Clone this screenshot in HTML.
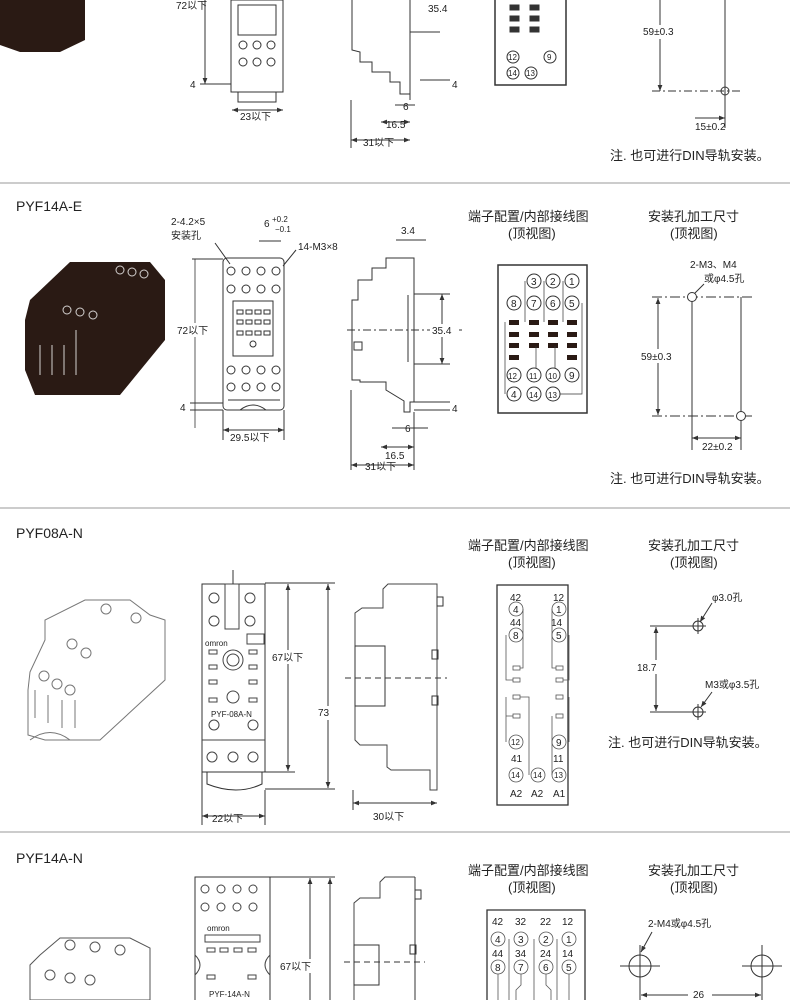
<!DOCTYPE html>
<html><head><meta charset="utf-8"><style>
html,body{margin:0;padding:0;background:#fff}
svg{display:block}
text{font-family:"Liberation Sans","Noto Sans CJK SC",sans-serif;fill:#222;stroke:none}
.t{font-size:13px}.s{font-size:10px}.xs{font-size:8px}.h{font-size:14px}
</style></head><body>
<svg width="790" height="1000" viewBox="0 0 790 1000" xmlns="http://www.w3.org/2000/svg" fill="none" stroke="#333" stroke-width="1">
<defs>
<marker id="a" viewBox="0 0 10 10" refX="10" refY="5" markerWidth="6" markerHeight="6" orient="auto-start-reverse"><path d="M0,1L10,5L0,9z" fill="#333" stroke="none"/></marker>
</defs>
<line x1="0" y1="183" x2="790" y2="183" stroke="#999"/>
<line x1="0" y1="508" x2="790" y2="508" stroke="#999"/>
<line x1="0" y1="832" x2="790" y2="832" stroke="#999"/>

<!-- ===== Section 1 ===== -->
<path d="M0,0H85V40L60,52H20L0,45Z" fill="#2a1a14" stroke="none"/>
<rect x="231" y="0" width="52" height="92" stroke="#333"/>
<rect x="238" y="5" width="38" height="30"/>
<circle cx="243" cy="62" r="4"/><circle cx="257" cy="62" r="4"/><circle cx="271" cy="62" r="4"/>
<circle cx="243" cy="45" r="4"/><circle cx="257" cy="45" r="4"/><circle cx="271" cy="45" r="4"/>
<rect x="238" y="92" width="38" height="10"/>
<line x1="205" y1="0" x2="205" y2="84" marker-end="url(#a)"/>
<text class="s" x="176" y="9">72以下</text>
<line x1="200" y1="84" x2="231" y2="84"/><text class="s" x="190" y="88">4</text>
<line x1="232" y1="110" x2="283" y2="110" marker-start="url(#a)" marker-end="url(#a)"/>
<text class="s" x="240" y="120">23以下</text>
<path d="M352,0V50L360,52V62H372V72H390V82H400V94H410V100"/>
<path d="M410,0V100"/>
<line x1="410" y1="32" x2="440" y2="32"/>
<text class="s" x="428" y="12">35.4</text>
<line x1="420" y1="80" x2="450" y2="80"/><text class="s" x="452" y="88">4</text>
<line x1="395" y1="105" x2="415" y2="105"/><text class="s" x="403" y="110">6</text>
<line x1="381" y1="122" x2="410" y2="122" marker-start="url(#a)" marker-end="url(#a)"/><text class="s" x="386" y="128">16.5</text>
<line x1="351" y1="140" x2="410" y2="140" marker-start="url(#a)" marker-end="url(#a)"/><text class="s" x="363" y="146">31以下</text>
<line x1="351" y1="100" x2="351" y2="148"/>
<rect x="495" y="-2" width="71" height="87" stroke-width="1.5"/>
<rect x="510" y="5" width="9" height="5" fill="#333"/><rect x="530" y="5" width="9" height="5" fill="#333"/>
<rect x="510" y="16" width="9" height="5" fill="#333"/><rect x="530" y="16" width="9" height="5" fill="#333"/>
<rect x="510" y="27" width="9" height="5" fill="#333"/><rect x="530" y="27" width="9" height="5" fill="#333"/>
<circle cx="513" cy="57" r="6"/><text class="xs" x="508" y="60">12</text>
<circle cx="550" cy="57" r="6"/><text class="xs" x="547" y="60">9</text>
<circle cx="513" cy="73" r="6"/><text class="xs" x="508" y="76">14</text>
<circle cx="531" cy="73" r="6"/><text class="xs" x="526" y="76">13</text>
<line x1="660" y1="0" x2="660" y2="91" marker-end="url(#a)"/>
<rect x="642" y="25" width="44" height="14" fill="#fff" stroke="none"/>
<text class="s" x="643" y="35">59±0.3</text>
<line x1="652" y1="91" x2="740" y2="91" stroke-dasharray="8,3,2,3"/>
<line x1="725" y1="0" x2="725" y2="128"/>
<circle cx="725" cy="91" r="4"/>
<line x1="695" y1="118" x2="725" y2="118" marker-end="url(#a)"/>
<text class="s" x="695" y="130">15±0.2</text>
<text class="t" x="610" y="160">注. 也可进行DIN导轨安装。</text>

<!-- ===== Section 2 PYF14A-E ===== -->
<text class="h" x="16" y="211">PYF14A-E</text>
<path d="M30,300L70,262H150L165,280V340L120,395H35L25,370V320Z" fill="#2a1a14" stroke="none"/>
<g stroke="#fff" stroke-width="1" opacity=".8">
<circle cx="120" cy="270" r="4"/><circle cx="132" cy="272" r="4"/><circle cx="144" cy="274" r="4"/>
<circle cx="67" cy="310" r="4"/><circle cx="80" cy="312" r="4"/><circle cx="93" cy="315" r="4"/>
<path d="M40,345v30M52,345v30M64,345v30M76,330v45"/>
</g>
<text class="s" x="171" y="225">2-4.2×5</text>
<text class="s" x="171" y="239">安装孔</text>
<line x1="215" y1="243" x2="230" y2="264"/>
<text class="s" x="264" y="227">6</text><text class="xs" x="272" y="222">+0.2</text><text class="xs" x="275" y="232">−0.1</text>
<line x1="259" y1="241" x2="281" y2="241"/>
<text class="s" x="298" y="250">14-M3×8</text>
<line x1="296" y1="250" x2="283" y2="266"/>
<rect x="223" y="258" width="61" height="152" rx="4"/>
<g>
<circle cx="231" cy="271" r="4"/><circle cx="246" cy="271" r="4"/><circle cx="261" cy="271" r="4"/><circle cx="276" cy="271" r="4"/>
<circle cx="231" cy="289" r="4"/><circle cx="246" cy="289" r="4"/><circle cx="261" cy="289" r="4"/><circle cx="276" cy="289" r="4"/>
<circle cx="231" cy="370" r="4"/><circle cx="246" cy="370" r="4"/><circle cx="261" cy="370" r="4"/><circle cx="276" cy="370" r="4"/>
<circle cx="231" cy="387" r="4"/><circle cx="246" cy="387" r="4"/><circle cx="261" cy="387" r="4"/><circle cx="276" cy="387" r="4"/>
<rect x="233" y="301" width="40" height="55"/>
<rect x="237" y="310" width="6" height="4"/><rect x="246" y="310" width="6" height="4"/><rect x="255" y="310" width="6" height="4"/><rect x="264" y="310" width="6" height="4"/>
<rect x="237" y="320" width="6" height="4"/><rect x="246" y="320" width="6" height="4"/><rect x="255" y="320" width="6" height="4"/><rect x="264" y="320" width="6" height="4"/>
<rect x="237" y="331" width="6" height="4"/><rect x="246" y="331" width="6" height="4"/><rect x="255" y="331" width="6" height="4"/><rect x="264" y="331" width="6" height="4"/>
<circle cx="253" cy="344" r="3"/>
<path d="M228,400h52M240,410q13,-10 26,0"/>
</g>
<line x1="195" y1="259" x2="195" y2="428" stroke-width=".8"/>
<line x1="192" y1="259" x2="223" y2="259"/>
<rect x="175" y="323" width="36" height="14" fill="#fff" stroke="none"/>
<text class="s" x="177" y="334">72以下</text>
<line x1="190" y1="403" x2="223" y2="403"/><line x1="190" y1="410" x2="223" y2="410"/>
<text class="s" x="180" y="411">4</text>
<line x1="223" y1="410" x2="223" y2="440"/><line x1="284" y1="410" x2="284" y2="440"/>
<line x1="223" y1="430" x2="284" y2="430" marker-start="url(#a)" marker-end="url(#a)"/>
<text class="s" x="230" y="441">29.5以下</text>
<text class="s" x="401" y="234">3.4</text>
<line x1="396" y1="240" x2="426" y2="240"/>
<path d="M386,258H414V402H410V412H404V401L386,390V382H360V380H352V300H358V280H372V268H386Z"/>
<line x1="408" y1="295" x2="408" y2="362"/>
<line x1="347" y1="330" x2="462" y2="330" stroke-dasharray="8,3,2,3"/>
<rect x="354" y="342" width="8" height="8"/>
<line x1="414" y1="294" x2="450" y2="294"/><line x1="414" y1="364" x2="450" y2="364"/>
<line x1="442" y1="294" x2="442" y2="364" marker-start="url(#a)" marker-end="url(#a)"/>
<rect x="430" y="324" width="26" height="13" fill="#fff" stroke="none"/>
<text class="s" x="432" y="334">35.4</text>
<line x1="414" y1="402" x2="450" y2="402"/><line x1="414" y1="410" x2="450" y2="410"/>
<text class="s" x="452" y="412">4</text>
<line x1="392" y1="428" x2="428" y2="428"/><text class="s" x="405" y="432">6</text>
<line x1="381" y1="447" x2="414" y2="447" marker-start="url(#a)" marker-end="url(#a)"/><text class="s" x="385" y="459">16.5</text>
<line x1="351" y1="465" x2="414" y2="465" marker-start="url(#a)" marker-end="url(#a)"/><text class="s" x="365" y="470">31以下</text>
<line x1="351" y1="390" x2="351" y2="470"/><line x1="414" y1="412" x2="414" y2="470"/>
<text class="t" x="468" y="221">端子配置/内部接线图</text>
<text class="t" x="508" y="238">(顶视图)</text>
<text class="t" x="648" y="221">安装孔加工尺寸</text>
<text class="t" x="670" y="238">(顶视图)</text>
<rect x="498" y="265" width="89" height="148" stroke-width="1.5"/>
<g>
<circle cx="534" cy="281" r="7"/><text x="531" y="285" class="s">3</text>
<circle cx="553" cy="281" r="7"/><text x="550" y="285" class="s">2</text>
<circle cx="572" cy="281" r="7"/><text x="569" y="285" class="s">1</text>
<circle cx="514" cy="303" r="7"/><text x="511" y="307" class="s">8</text>
<circle cx="534" cy="303" r="7"/><text x="531" y="307" class="s">7</text>
<circle cx="553" cy="303" r="7"/><text x="550" y="307" class="s">6</text>
<circle cx="572" cy="303" r="7"/><text x="569" y="307" class="s">5</text>
<circle cx="514" cy="375" r="7"/><text x="508" y="379" class="xs">12</text>
<circle cx="534" cy="375" r="7"/><text x="529" y="379" class="xs">11</text>
<circle cx="553" cy="375" r="7"/><text x="548" y="379" class="xs">10</text>
<circle cx="572" cy="375" r="7"/><text x="569" y="379" class="s">9</text>
<circle cx="514" cy="394" r="7"/><text x="511" y="398" class="s">4</text>
<circle cx="534" cy="394" r="7"/><text x="529" y="398" class="xs">14</text>
<circle cx="553" cy="394" r="7"/><text x="548" y="398" class="xs">13</text>
</g>
<g fill="#2a1a14" stroke="none">
<rect x="509" y="320" width="10" height="5"/><rect x="529" y="320" width="10" height="5"/><rect x="548" y="320" width="10" height="5"/><rect x="567" y="320" width="10" height="5"/>
<rect x="509" y="332" width="10" height="5"/><rect x="529" y="332" width="10" height="5"/><rect x="548" y="332" width="10" height="5"/><rect x="567" y="332" width="10" height="5"/>
<rect x="509" y="343" width="10" height="5"/><rect x="529" y="343" width="10" height="5"/><rect x="548" y="343" width="10" height="5"/><rect x="567" y="343" width="10" height="5"/>
<rect x="509" y="355" width="10" height="5"/><rect x="567" y="355" width="10" height="5"/>
</g>
<path d="M525,281V322M544,281V322M563,281V322M505,322V394M536,346V368M555,346V368M582,303V394H560" stroke-width=".7"/>
<text class="s" x="690" y="268">2-M3、M4</text>
<text class="s" x="704" y="282">或φ4.5孔</text>
<line x1="704" y1="284" x2="694" y2="294"/>
<line x1="652" y1="297" x2="752" y2="297" stroke-dasharray="10,3,2,3"/>
<line x1="652" y1="416" x2="752" y2="416" stroke-dasharray="10,3,2,3"/>
<line x1="692" y1="297" x2="692" y2="450"/><line x1="741" y1="297" x2="741" y2="450"/>
<circle cx="692" cy="297" r="4.5" fill="#fff"/><circle cx="741" cy="416" r="4.5" fill="#fff"/>
<line x1="658" y1="298" x2="658" y2="415" marker-start="url(#a)" marker-end="url(#a)"/>
<rect x="640" y="349" width="44" height="14" fill="#fff" stroke="none"/>
<text class="s" x="641" y="360">59±0.3</text>
<line x1="692" y1="438" x2="741" y2="438" marker-start="url(#a)" marker-end="url(#a)"/>
<rect x="700" y="440" width="36" height="12" fill="#fff" stroke="none"/>
<text class="s" x="702" y="450">22±0.2</text>
<text class="t" x="610" y="483">注. 也可进行DIN导轨安装。</text>

<!-- ===== Section 3 PYF08A-N ===== -->
<text class="h" x="16" y="538">PYF08A-N</text>
<g stroke="#777">
<path d="M30,672L45,640V620L85,600H130L150,615L165,620V680L100,740H45L28,735V690Z"/>
<circle cx="106" cy="609" r="5"/><circle cx="136" cy="618" r="5"/><circle cx="72" cy="644" r="5"/><circle cx="86" cy="653" r="5"/>
<circle cx="44" cy="676" r="5"/><circle cx="57" cy="684" r="5"/><circle cx="70" cy="690" r="5"/>
<path d="M35,690v28M48,695v28M62,700v28M75,700v28M30,740q20,-15 40,0"/>
</g>
<rect x="202" y="584" width="63" height="188"/>
<path d="M207,772v12q30,12 55,0v-12"/>
<g stroke="#444">
<circle cx="214" cy="598" r="5"/><circle cx="250" cy="598" r="5"/>
<circle cx="214" cy="621" r="5"/><circle cx="250" cy="621" r="5"/>
<circle cx="214" cy="725" r="5"/><circle cx="253" cy="725" r="5"/>
<circle cx="212" cy="757" r="5"/><circle cx="233" cy="757" r="5"/><circle cx="253" cy="757" r="5"/>
<rect x="225" y="584" width="14" height="45"/>
<circle cx="233" cy="660" r="10"/><circle cx="233" cy="660" r="6"/>
<circle cx="233" cy="697" r="6"/>
<rect x="209" y="650" width="8" height="4"/><rect x="249" y="650" width="8" height="4"/>
<rect x="209" y="665" width="8" height="4"/><rect x="249" y="665" width="8" height="4"/>
<rect x="209" y="680" width="8" height="4"/><rect x="249" y="680" width="8" height="4"/>
<rect x="209" y="698" width="8" height="4"/><rect x="249" y="698" width="8" height="4"/>
<rect x="247" y="634" width="17" height="10"/>
<path d="M202,740h63"/>
</g>
<text class="xs" x="205" y="646">omron</text>
<text class="xs" x="211" y="717">PYF-08A-N</text>
<line x1="233" y1="570" x2="233" y2="584"/>
<line x1="265" y1="583" x2="335" y2="583"/><line x1="265" y1="772" x2="295" y2="772"/><line x1="265" y1="789" x2="335" y2="789"/>
<line x1="288" y1="584" x2="288" y2="771" marker-start="url(#a)" marker-end="url(#a)"/>
<line x1="328" y1="584" x2="328" y2="788" marker-start="url(#a)" marker-end="url(#a)"/>
<rect x="270" y="650" width="36" height="14" fill="#fff" stroke="none"/>
<text class="s" x="272" y="661">67以下</text>
<rect x="316" y="706" width="14" height="14" fill="#fff" stroke="none"/>
<text class="s" x="318" y="716">73</text>
<line x1="202" y1="772" x2="202" y2="825"/><line x1="265" y1="790" x2="265" y2="825"/>
<line x1="202" y1="816" x2="265" y2="816" marker-start="url(#a)" marker-end="url(#a)"/>
<text class="s" x="212" y="822">22以下</text>
<path d="M437,584H388L383,589V608H362L355,613V740L360,745H387V767L391,770H430V790H437Z" stroke="#444"/>
<rect x="437" y="597" width="6" height="9"/><rect x="432" y="650" width="6" height="9"/><rect x="432" y="696" width="6" height="9"/>
<rect x="355" y="646" width="30" height="60"/>
<line x1="345" y1="678" x2="447" y2="678" stroke-dasharray="6,4"/>
<line x1="353" y1="790" x2="353" y2="810"/>
<line x1="353" y1="803" x2="437" y2="803" marker-start="url(#a)" marker-end="url(#a)"/>
<text class="s" x="373" y="820">30以下</text>
<text class="t" x="468" y="550">端子配置/内部接线图</text>
<text class="t" x="508" y="567">(顶视图)</text>
<text class="t" x="648" y="550">安装孔加工尺寸</text>
<text class="t" x="670" y="567">(顶视图)</text>
<rect x="497" y="585" width="71" height="220" stroke-width="1.3"/>
<g stroke="#555" stroke-width=".8">
<text class="s" x="510" y="601">42</text><circle cx="516" cy="609" r="7"/><text class="s" x="513" y="613">4</text>
<text class="s" x="510" y="626">44</text><circle cx="516" cy="635" r="7"/><text class="s" x="513" y="639">8</text>
<text class="s" x="553" y="601">12</text><circle cx="559" cy="609" r="7"/><text class="s" x="556" y="613">1</text>
<text class="s" x="551" y="626">14</text><circle cx="559" cy="635" r="7"/><text class="s" x="556" y="639">5</text>
<circle cx="516" cy="742" r="7"/><text class="xs" x="511" y="745">12</text>
<circle cx="559" cy="742" r="7"/><text class="s" x="556" y="746">9</text>
<text class="s" x="511" y="762">41</text><text class="s" x="553" y="762">11</text>
<circle cx="516" cy="775" r="7"/><text class="xs" x="511" y="778">14</text>
<circle cx="538" cy="775" r="7"/><text class="xs" x="533" y="778">14</text>
<circle cx="559" cy="775" r="7"/><text class="xs" x="554" y="778">13</text>
<text class="s" x="510" y="797">A2</text><text class="s" x="531" y="797">A2</text><text class="s" x="553" y="797">A1</text>
<rect x="513" y="666" width="7" height="4"/><rect x="556" y="666" width="7" height="4"/>
<rect x="513" y="678" width="7" height="4"/><rect x="556" y="678" width="7" height="4"/>
<rect x="513" y="695" width="7" height="4"/><rect x="556" y="695" width="7" height="4"/>
<rect x="513" y="714" width="7" height="4"/><rect x="556" y="714" width="7" height="4"/>
<path d="M523,609V668H520M506,635V680H513M506,697V742M506,716H513M529,775V697H520M569,635V680H563M552,609V668H556M569,697V742M552,716V775"/>
</g>
<text class="s" x="712" y="601">φ3.0孔</text>
<line x1="712" y1="603" x2="700" y2="622" marker-end="url(#a)"/>
<circle cx="698" cy="626" r="5"/><line x1="690" y1="626" x2="706" y2="626"/><line x1="698" y1="618" x2="698" y2="634"/>
<line x1="650" y1="626" x2="690" y2="626"/>
<circle cx="698" cy="712" r="5"/><line x1="690" y1="712" x2="706" y2="712"/><line x1="698" y1="704" x2="698" y2="720"/>
<line x1="650" y1="712" x2="690" y2="712"/>
<line x1="656" y1="627" x2="656" y2="711" marker-start="url(#a)" marker-end="url(#a)"/>
<rect x="636" y="660" width="28" height="14" fill="#fff" stroke="none"/>
<text class="s" x="637" y="671">18.7</text>
<text class="s" x="705" y="688">M3或φ3.5孔</text>
<line x1="712" y1="692" x2="701" y2="707" marker-end="url(#a)"/>
<text class="t" x="608" y="747">注. 也可进行DIN导轨安装。</text>

<!-- ===== Section 4 PYF14A-N ===== -->
<text class="h" x="16" y="863">PYF14A-N</text>
<g stroke="#555">
<path d="M40,955L60,938H130L150,948V1000H30V965Z"/>
<circle cx="70" cy="945" r="5"/><circle cx="95" cy="947" r="5"/><circle cx="120" cy="950" r="5"/>
<circle cx="50" cy="975" r="5"/><circle cx="70" cy="978" r="5"/><circle cx="90" cy="980" r="5"/>
</g>
<rect x="195" y="877" width="75" height="130"/>
<g stroke="#444">
<circle cx="205" cy="889" r="4"/><circle cx="221" cy="889" r="4"/><circle cx="237" cy="889" r="4"/><circle cx="253" cy="889" r="4"/>
<circle cx="205" cy="907" r="4"/><circle cx="221" cy="907" r="4"/><circle cx="237" cy="907" r="4"/><circle cx="253" cy="907" r="4"/>
<rect x="205" y="935" width="55" height="7"/>
<rect x="207" y="948" width="8" height="4"/><rect x="220" y="948" width="8" height="4"/><rect x="234" y="948" width="8" height="4"/><rect x="248" y="948" width="8" height="4"/>
<rect x="207" y="975" width="8" height="4"/><rect x="248" y="975" width="8" height="4"/>
<path d="M195,955q10,10 0,20M270,955q-10,10 0,20"/>
</g>
<text class="xs" x="207" y="931">omron</text>
<text class="xs" x="209" y="997">PYF-14A-N</text>
<line x1="270" y1="877" x2="335" y2="877"/>
<line x1="310" y1="878" x2="310" y2="1000" marker-start="url(#a)"/>
<line x1="330" y1="878" x2="330" y2="1000" marker-start="url(#a)"/>
<rect x="279" y="959" width="36" height="14" fill="#fff" stroke="none"/>
<text class="s" x="280" y="970">67以下</text>
<path d="M415,877H385L380,882V898H360L354,903V1000" stroke="#444"/>
<line x1="415" y1="877" x2="415" y2="1000"/>
<rect x="354" y="945" width="25" height="40"/>
<rect x="415" y="890" width="6" height="9"/><rect x="410" y="945" width="6" height="9"/>
<line x1="344" y1="962" x2="425" y2="962" stroke-dasharray="6,4"/>
<text class="t" x="468" y="875">端子配置/内部接线图</text>
<text class="t" x="508" y="892">(顶视图)</text>
<text class="t" x="648" y="875">安装孔加工尺寸</text>
<text class="t" x="670" y="892">(顶视图)</text>
<path d="M487,1000V910H585V1000" stroke-width="1.3"/>
<g stroke="#555" stroke-width=".8">
<text class="s" x="492" y="925">42</text><text class="s" x="515" y="925">32</text><text class="s" x="540" y="925">22</text><text class="s" x="562" y="925">12</text>
<circle cx="498" cy="939" r="7"/><circle cx="521" cy="939" r="7"/><circle cx="546" cy="939" r="7"/><circle cx="569" cy="939" r="7"/>
<text class="s" x="495" y="943">4</text><text class="s" x="518" y="943">3</text><text class="s" x="543" y="943">2</text><text class="s" x="566" y="943">1</text>
<text class="s" x="492" y="957">44</text><text class="s" x="515" y="957">34</text><text class="s" x="540" y="957">24</text><text class="s" x="562" y="957">14</text>
<circle cx="498" cy="967" r="7"/><circle cx="521" cy="967" r="7"/><circle cx="546" cy="967" r="7"/><circle cx="569" cy="967" r="7"/>
<text class="s" x="495" y="971">8</text><text class="s" x="518" y="971">7</text><text class="s" x="543" y="971">6</text><text class="s" x="566" y="971">5</text>
<path d="M498,974V1000M509,939V1000M534,939V1000M557,939V1000M569,974V1000M521,974V985L516,990V1000M546,974V985L551,990V1000"/>
</g>
<text class="s" x="648" y="927">2-M4或φ4.5孔</text>
<line x1="652" y1="932" x2="641" y2="952" marker-end="url(#a)"/>
<circle cx="640" cy="966" r="11"/><line x1="620" y1="966" x2="660" y2="966"/><line x1="640" y1="945" x2="640" y2="1000"/>
<circle cx="762" cy="966" r="11"/><line x1="742" y1="966" x2="782" y2="966"/><line x1="762" y1="945" x2="762" y2="1000"/>
<line x1="641" y1="995" x2="761" y2="995" marker-start="url(#a)" marker-end="url(#a)"/>
<rect x="688" y="988" width="24" height="12" fill="#fff" stroke="none"/>
<text class="s" x="693" y="998">26</text>
</svg>
</body></html>
